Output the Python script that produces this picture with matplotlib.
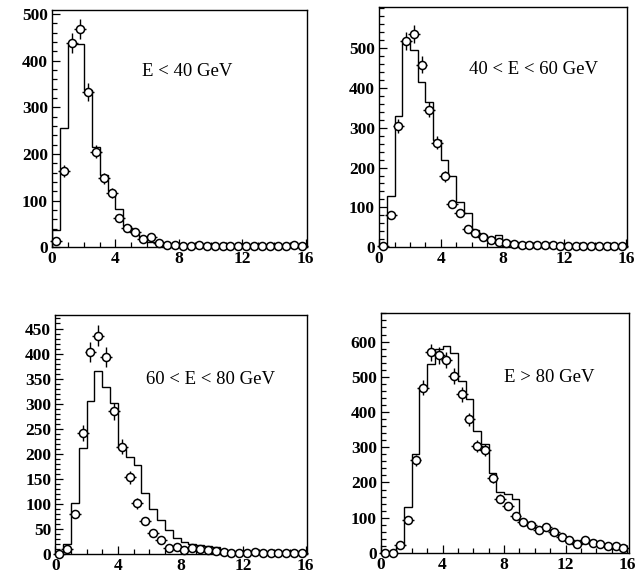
import numpy as np
import matplotlib.pyplot as plt
from matplotlib.ticker import MultipleLocator

plt.rcParams['font.family'] = ['Liberation Serif', 'DejaVu Serif']

edges = np.arange(0, 16.01, 0.5)
centers = edges[:-1] + 0.25

# measured counts (points) and simulation (histogram) per energy range
data_lt40 = [14, 163, 438, 468, 333, 205, 148, 117, 62, 42, 32, 17, 21, 9, 5, 4,
             3, 3, 4, 3, 2, 2, 2, 2, 2, 2, 3, 3, 3, 3, 4, 3]
mc_lt40 = [38, 255, 435, 435, 338, 215, 155, 120, 82, 45, 30, 20, 12, 8, 5, 3,
           2, 2, 2, 1, 1, 1, 1, 1, 1, 1, 1, 1, 1, 1, 1, 1]

data_40_60 = [2, 80, 305, 518, 535, 458, 345, 262, 178, 108, 85, 47, 35, 25, 18, 12,
              10, 8, 6, 5, 5, 6, 5, 4, 4, 3, 3, 3, 3, 3, 3, 4]
mc_40_60 = [3, 128, 330, 520, 495, 415, 365, 270, 218, 180, 113, 85, 42, 30, 18, 30,
            15, 12, 8, 6, 5, 5, 4, 4, 3, 3, 3, 3, 2, 2, 2, 2]

data_60_80 = [1, 10, 80, 242, 403, 436, 393, 285, 214, 153, 101, 66, 43, 28, 13, 15,
              9, 13, 11, 8, 6, 4, 2, 2, 3, 4, 3, 3, 3, 3, 2, 2]
mc_60_80 = [2, 20, 102, 212, 306, 366, 334, 302, 214, 194, 178, 122, 90, 68, 48, 32,
            24, 20, 18, 16, 14, 8, 5, 4, 3, 3, 2, 2, 2, 2, 2, 1]

data_gt80 = [1, 1, 22, 93, 263, 469, 569, 561, 547, 502, 450, 379, 303, 291, 213, 154,
             133, 106, 88, 80, 64, 73, 59, 45, 36, 24, 36, 28, 26, 19, 20, 15]
mc_gt80 = [1, 2, 20, 130, 280, 470, 535, 580, 588, 567, 488, 436, 346, 308, 226, 172,
           166, 154, 92, 85, 70, 65, 55, 48, 30, 28, 30, 25, 22, 18, 15, 12]

labels = ['E < 40 GeV', '40 < E < 60 GeV', '60 < E < 80 GeV', 'E > 80 GeV']

fig = plt.figure(figsize=(6.35, 5.79), dpi=100)

panels = [
    # rect, data, mc, ymax, major, minor, top label, text pos
    ([0.082, 0.573, 0.402, 0.409], data_lt40, mc_lt40, 508, 100, 20, 500, (0.53, 0.74)),
    ([0.597, 0.573, 0.391, 0.415], data_40_60, mc_40_60, 603, 100, 20, 500, (0.62, 0.74)),
    ([0.087, 0.043, 0.397, 0.413], data_60_80, mc_60_80, 477, 50, 10, 450, (0.615, 0.73)),
    ([0.600, 0.045, 0.390, 0.415], data_gt80, mc_gt80, 682, 100, 20, 600, (0.68, 0.73)),
]

for (rect, dat, mc, ymax, major, minor, toplab, tpos), lab in zip(panels, labels):
    ax = fig.add_axes(rect)
    dat = np.array(dat, dtype=float)
    ax.stairs(mc, edges, color='black', lw=1.0, baseline=0, zorder=2)
    ax.errorbar(centers, dat, yerr=np.sqrt(dat), xerr=0.38, fmt='o',
                ms=5.8, mfc='white', mec='black', mew=1.1,
                ecolor='black', elinewidth=1.0, capsize=0, zorder=3,
                clip_on=False)
    ax.set_xlim(0, 16.1)
    ax.set_ylim(0, ymax)
    ax.set_xticks([0, 4, 8, 12, 16])
    ax.xaxis.set_minor_locator(MultipleLocator(1))
    ax.set_yticks(np.arange(0, toplab + 1, major))
    ax.yaxis.set_minor_locator(MultipleLocator(minor))
    ax.tick_params(which='both', direction='in', top=False, right=False,
                   labelsize=12.5, width=0.9)
    ax.tick_params(which='major', length=6, pad=3)
    ax.tick_params(which='minor', length=3.5)
    for t in ax.get_xticklabels() + ax.get_yticklabels():
        t.set_fontweight('bold')
    for s in ax.spines.values():
        s.set_linewidth(1.0)
    ax.text(tpos[0], tpos[1], lab, transform=ax.transAxes, ha='center',
            va='center', fontsize=13.5)

fig.savefig('out.png', dpi=100)
